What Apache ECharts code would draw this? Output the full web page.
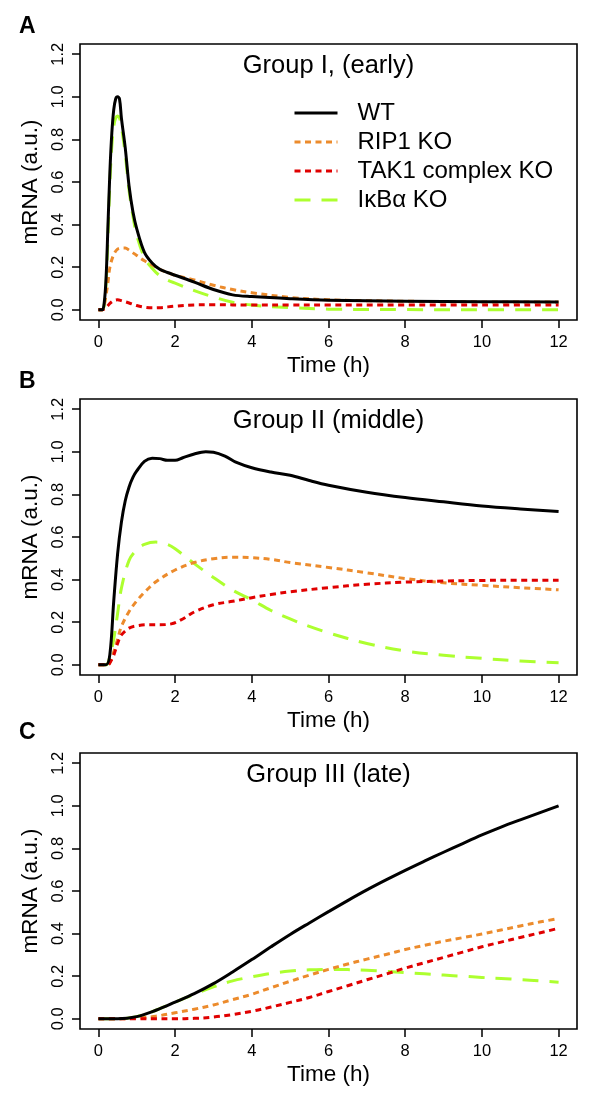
<!DOCTYPE html>
<html><head><meta charset="utf-8">
<script src="https://cdn.jsdelivr.net/npm/echarts@6/dist/echarts.min.js"></script>
<style>html,body{margin:0;padding:0;background:#fff}#c{width:600px;height:1099px}</style>
</head><body><div id="c"></div>
<script>
// ---- data (time in h, mRNA in a.u.) ----
const SERIES_NAMES = ['WT', 'RIP1 KO', 'TAK1 complex KO', 'I\u03baB\u03b1 KO'];
const PANEL_TITLES = ['Group I, (early)', 'Group II (middle)', 'Group III (late)'];
const PANEL_LETTERS = ['A', 'B', 'C'];
const X_TICKS = [0, 2, 4, 6, 8, 10, 12];
const Y_TICKS = [0, 0.2, 0.4, 0.6, 0.8, 1.0, 1.2];

// Panel A
const A_WT_t = [0,0.1,0.15,0.2,0.25,0.3,0.35,0.4,0.45,0.5,0.55,0.6,0.7,0.8,0.9,1.0,1.2,1.4,1.6,1.8,2.0,2.5,3,3.5,4,5,6,8,10,12];
const A_WT_v = [0,0,0.03,0.15,0.4,0.65,0.83,0.94,0.99,1.0,0.99,0.9,0.76,0.58,0.46,0.38,0.27,0.22,0.19,0.175,0.162,0.13,0.095,0.07,0.062,0.052,0.045,0.04,0.038,0.037];
const A_RIP_t = [0,0.1,0.15,0.2,0.25,0.3,0.4,0.5,0.6,0.7,0.8,1.0,1.2,1.4,1.6,1.8,2.0,2.5,3,3.5,4,5,6,8,10,12];
const A_RIP_v = [0,0,0.02,0.07,0.13,0.2,0.26,0.285,0.29,0.29,0.28,0.255,0.23,0.21,0.19,0.175,0.162,0.14,0.115,0.095,0.08,0.058,0.047,0.04,0.037,0.036];
const A_TAK_t = [0,0.1,0.2,0.3,0.4,0.5,0.6,0.8,1.0,1.2,1.4,1.6,2.0,2.5,3,4,5,6,8,10,12];
const A_TAK_v = [0,0,0.01,0.03,0.043,0.047,0.043,0.032,0.02,0.012,0.009,0.01,0.017,0.023,0.024,0.022,0.023,0.023,0.023,0.023,0.023];
const A_IKB_t = [0,0.1,0.15,0.2,0.25,0.3,0.35,0.4,0.45,0.5,0.55,0.6,0.7,0.8,0.9,1.0,1.2,1.4,1.6,1.8,2.0,2.5,3,3.5,4,5,6,8,10,12];
const A_IKB_v = [0,0,0.02,0.12,0.35,0.6,0.77,0.86,0.9,0.91,0.9,0.86,0.73,0.56,0.44,0.35,0.245,0.195,0.16,0.14,0.125,0.09,0.06,0.035,0.022,0.01,0.003,0.001,0,0];

// Panel B
const B_WT_t = [0,0.2,0.3,0.4,0.5,0.6,0.7,0.8,0.9,1.0,1.2,1.4,1.6,1.8,2.0,2.2,2.5,2.8,3.0,3.3,3.6,4.0,4.5,5,5.5,6,7,8,9,10,11,12];
const B_WT_v = [0,0,0.05,0.3,0.52,0.67,0.77,0.835,0.88,0.91,0.955,0.97,0.968,0.96,0.96,0.972,0.99,1.0,0.998,0.98,0.95,0.925,0.905,0.89,0.865,0.843,0.81,0.785,0.765,0.746,0.732,0.72];
const B_RIP_t = [0,0.25,0.3,0.4,0.5,0.6,0.8,1.0,1.2,1.5,2.0,2.5,3,3.5,4,4.5,5,6,7,8,9,10,11,12];
const B_RIP_v = [0,0,0.01,0.06,0.12,0.18,0.25,0.3,0.34,0.39,0.445,0.48,0.498,0.505,0.503,0.495,0.48,0.457,0.432,0.405,0.385,0.373,0.362,0.352];
const B_TAK_t = [0,0.25,0.3,0.4,0.5,0.6,0.8,1.0,1.3,1.6,1.9,2.2,2.5,3,3.5,4,4.5,5,6,7,8,9,10,11,12];
const B_TAK_v = [0,0,0.01,0.045,0.1,0.14,0.172,0.183,0.188,0.188,0.192,0.215,0.248,0.282,0.298,0.315,0.33,0.343,0.362,0.378,0.388,0.393,0.396,0.397,0.397];
const B_IKB_t = [0,0.2,0.3,0.4,0.5,0.6,0.8,1.0,1.2,1.5,1.8,2.0,2.5,3,3.5,4,4.5,5,5.5,6,7,8,9,10,11,12];
const B_IKB_v = [0,0,0.04,0.12,0.24,0.36,0.49,0.54,0.565,0.576,0.565,0.545,0.475,0.41,0.35,0.305,0.255,0.215,0.18,0.15,0.1,0.065,0.045,0.03,0.018,0.01];

// Panel C (half-hour samples)
const C_t = [0,0.5,1,1.5,2,2.5,3,3.5,4,4.5,5,5.5,6,6.5,7,7.5,8,8.5,9,9.5,10,10.5,11,11.5,12];
const C_WT_v  = [0,0,0.01,0.04,0.078,0.118,0.165,0.22,0.278,0.338,0.396,0.45,0.503,0.555,0.605,0.652,0.697,0.74,0.782,0.823,0.863,0.9,0.934,0.967,1.0];
const C_RIP_v = [0,0,0.003,0.012,0.028,0.045,0.065,0.09,0.115,0.146,0.176,0.205,0.232,0.257,0.28,0.302,0.325,0.345,0.364,0.381,0.398,0.417,0.436,0.454,0.471];
const C_TAK_v = [0,0,0,0,0,0.002,0.008,0.02,0.035,0.055,0.077,0.1,0.128,0.155,0.183,0.21,0.238,0.263,0.288,0.313,0.338,0.36,0.382,0.403,0.425];
const C_IKB_v = [0,0,0.01,0.04,0.078,0.115,0.15,0.178,0.197,0.213,0.224,0.23,0.232,0.231,0.228,0.223,0.217,0.211,0.205,0.2,0.194,0.189,0.184,0.178,0.172];

const PANELS = [
  [[A_WT_t, A_WT_v], [A_RIP_t, A_RIP_v], [A_TAK_t, A_TAK_v], [A_IKB_t, A_IKB_v]],
  [[B_WT_t, B_WT_v], [B_RIP_t, B_RIP_v], [B_TAK_t, B_TAK_v], [B_IKB_t, B_IKB_v]],
  [[C_t, C_WT_v], [C_t, C_RIP_v], [C_t, C_TAK_v], [C_t, C_IKB_v]]
];

// ---- styling ----
const FONT = 'Liberation Sans, Arial, Helvetica, sans-serif';
const LINE_STYLES = [
  { color: '#000000', width: 3, type: 'solid' },
  { color: '#EC8B2C', width: 3, type: [6, 4.5] },
  { color: '#E00000', width: 3, type: [6, 4.5] },
  { color: '#ADFF2F', width: 3, type: [16, 11] }
];
const Z_ORDER = [9, 5, 6, 4];
const GRID_TOPS = [44, 399, 753];
const GRID_H = 276;
const GRID_LEFT = 80, GRID_W = 497;

const grids = [], xAxes = [], yAxes = [], series = [], graphics = [];
GRID_TOPS.forEach((top, p) => {
  grids.push({ left: GRID_LEFT, top: top, width: GRID_W, height: GRID_H, show: true,
    borderColor: '#000', borderWidth: 1.6, backgroundColor: 'transparent' });
  xAxes.push({ type: 'value', gridIndex: p, min: -0.48, max: 12.48, position: 'bottom',
    name: 'Time (h)', nameLocation: 'middle', nameGap: 34,
    nameTextStyle: { fontFamily: FONT, fontSize: 22.5, color: '#000' },
    axisLine: { show: false, onZero: false }, splitLine: { show: false },
    axisTick: { show: true, inside: false, length: 8, customValues: X_TICKS, lineStyle: { color: '#000', width: 1.5 } },
    axisLabel: { customValues: X_TICKS, margin: 14, fontFamily: FONT, fontSize: 16.5, color: '#000',
      formatter: v => String(Math.round(v)) }
  });
  yAxes.push({ type: 'value', gridIndex: p, min: -0.048, max: 1.248, position: 'left',
    name: 'mRNA (a.u.)', nameLocation: 'middle', nameGap: 31, nameRotate: 90,
    nameTextStyle: { fontFamily: FONT, fontSize: 22.5, color: '#000' },
    axisLine: { show: false, onZero: false }, splitLine: { show: false },
    axisTick: { show: true, inside: false, length: 8, customValues: Y_TICKS, lineStyle: { color: '#000', width: 1.5 } },
    axisLabel: { customValues: Y_TICKS, rotate: 90, margin: 13, fontFamily: FONT, fontSize: 16.5, color: '#000',
      formatter: v => v.toFixed(1) }
  });
  PANELS[p].forEach((pair, s) => {
    const [ts, vs] = pair;
    series.push({ type: 'line', name: SERIES_NAMES[s], xAxisIndex: p, yAxisIndex: p,
      data: ts.map((t, i) => [t, vs[i]]),
      smooth: 0.35, symbol: 'none', showSymbol: false, silent: true, animation: false,
      itemStyle: { color: LINE_STYLES[s].color },
      lineStyle: Object.assign({ cap: 'butt', join: 'round' }, LINE_STYLES[s]),
      z: Z_ORDER[s] });
  });
  const cx = GRID_LEFT + GRID_W / 2;
  graphics.push({ type: 'text', x: cx, y: top + 22, style: { text: PANEL_TITLES[p],
    font: '25.5px ' + FONT, fill: '#000', textAlign: 'center', textVerticalAlign: 'middle' } });
});
const LETTER_Y = [27, 382, 733];
PANEL_LETTERS.forEach((L, p) => {
  graphics.push({ type: 'text', x: 19, y: LETTER_Y[p], style: { text: L, font: 'bold 23px ' + FONT, fill: '#000', textAlign: 'left', textVerticalAlign: 'middle' } });
});

const chart = echarts.init(document.getElementById('c'), null, { renderer: 'canvas' });
chart.setOption({
  animation: false,
  backgroundColor: '#fff',
  grid: grids, xAxis: xAxes, yAxis: yAxes, series: series,
  legend: { show: true, orient: 'vertical', left: 288, top: 96, itemWidth: 43, itemHeight: 14, itemGap: 5,
    data: SERIES_NAMES, selectedMode: false,
    itemStyle: { color: 'rgba(0,0,0,0)', borderWidth: 0, opacity: 0 },
    lineStyle: { width: 3 },
    textStyle: { fontFamily: FONT, fontSize: 24, color: '#000', lineHeight: 24, padding: [0, 0, 0, 15] } },
  graphic: graphics
});
</script></body></html>
